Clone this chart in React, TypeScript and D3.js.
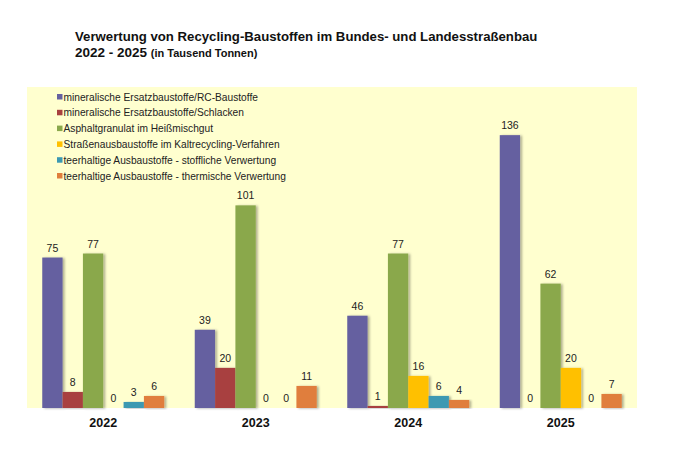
import React from 'react'
import * as d3 from 'd3'

// Verwertung von Recycling-Baustoffen, Werte in Tausend Tonnen
const years = ['2022', '2023', '2024', '2025']
const seriesNames = [
  'mineralische Ersatzbaustoffe/RC-Baustoffe',
  'mineralische Ersatzbaustoffe/Schlacken',
  'Asphaltgranulat im Heißmischgut',
  'Straßenausbaustoffe im Kaltrecycling-Verfahren',
  'teerhaltige Ausbaustoffe - stoffliche Verwertung',
  'teerhaltige Ausbaustoffe - thermische Verwertung',
]
const rcBaustoffe = [75, 39, 46, 136]
const schlacken = [8, 20, 1, 0]
const asphaltgranulat = [77, 101, 77, 62]
const kaltrecycling = [0, 0, 16, 20]
const teerStofflich = [3, 0, 6, 0]
const teerThermisch = [6, 11, 4, 7]
const seriesValues = [rcBaustoffe, schlacken, asphaltgranulat, kaltrecycling, teerStofflich, teerThermisch]
const colors = ['#6561a0', '#a8403f', '#8aa84b', '#ffc000', '#3c99b2', '#e07e3c']

const W = 680
const H = 449
const plot = {left: 27, right: 637, top: 87, bottom: 408}
const font = 'Liberation Sans, Arial, sans-serif'

export default function App() {
  const x = d3.scaleBand<string>()
    .domain(years)
    .range([plot.left, plot.right])
    .paddingInner(0.2)
    .paddingOuter(0.1)

  const xs = d3.scaleBand<number>()
    .domain(d3.range(seriesNames.length))
    .range([0, x.bandwidth()])

  const y = d3.scaleLinear().domain([0, 160]).range([plot.bottom, plot.top])

  return (
    <svg width={W} height={H} style={{position: 'absolute', left: 0, top: 0, background: '#fff'}}
      fontFamily={font}>
      <defs>
        <filter id="barShadow" x="-30%" y="-10%" width="160%" height="120%">
          <feDropShadow dx="2" dy="0.5" stdDeviation="1.2" floodColor="#000" floodOpacity="0.3" />
        </filter>
      </defs>

      <text x={75} y={41} fontSize={13.2} fontWeight="bold" fill="#111">
        Verwertung von Recycling-Baustoffen im Bundes- und Landesstraßenbau
      </text>
      <text x={75} y={57} fontSize={13.5} fontWeight="bold" fill="#111">
        2022 - 2025 <tspan fontSize={11}>(in Tausend Tonnen)</tspan>
      </text>

      <rect x={plot.left} y={plot.top} width={plot.right - plot.left} height={plot.bottom - plot.top}
        fill="#ffffcf" />

      {/* legend */}
      <g>
        {seriesNames.map((name, i) => (
          <g key={name} transform={`translate(57, ${97 + i * 15.8})`}>
            <rect x={0} y={-3} width={5.5} height={5.5} fill={colors[i]} />
            <text x={6.5} y={3.6} fontSize={10.2} fill="#222">{name}</text>
          </g>
        ))}
      </g>

      {years.map((year, yi) => (
        <g key={year} transform={`translate(${x(year)}, 0)`}>
          {seriesValues.map((vals, si) => {
            const v = vals[yi]
            const bx = xs(si) as number
            return (
              <g key={si}>
                {v > 0 && (
                  <rect x={bx} y={y(v)} width={xs.bandwidth()} height={y(0) - y(v)}
                    fill={colors[si]} filter="url(#barShadow)" />
                )}
                <text x={bx + xs.bandwidth() / 2} y={y(v) - 6} textAnchor="middle"
                  fontSize={10.5} fill="#222">{v}</text>
              </g>
            )
          })}
          <text x={x.bandwidth() / 2} y={427} textAnchor="middle" fontSize={12.5}
            fontWeight="bold" fill="#111">{year}</text>
        </g>
      ))}
    </svg>
  )
}
